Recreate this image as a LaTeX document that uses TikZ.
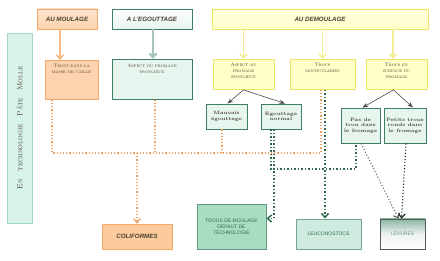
\documentclass[tikz,border=0pt]{standalone}
\usepackage{fontspec}
\setsansfont{Liberation Sans}
\usetikzlibrary{arrows.meta,calc}
\definecolor{orbd}{HTML}{F2A868}
\definecolor{orfill}{HTML}{FCD3AE}
\definecolor{orline}{HTML}{F0A060}
\definecolor{grbd}{HTML}{3E7E62}
\definecolor{grfill}{HTML}{E6F5EE}
\definecolor{ylbd}{HTML}{EFE46A}
\definecolor{ylfill}{HTML}{FFFFC8}
\definecolor{mint}{HTML}{D8F3EA}
\definecolor{mintbd}{HTML}{A6D8C6}
\definecolor{dkgr}{HTML}{2F6A4C}
\definecolor{txt}{HTML}{4A4030}
\definecolor{tdmfill}{HTML}{A9DCC2}
\definecolor{leufill}{HTML}{CFEBDF}
\definecolor{levtop}{HTML}{8AB4A2}
\tikzset{
  bx/.style={draw, line width=0.9pt, inner sep=1pt, align=center, text=txt},
  hdr/.style={bx, font=\sffamily\bfseries\itshape\fontsize{6.2}{7}\selectfont},
  sctxt/.style={inner sep=0pt, align=center, text=txt, anchor=north, font=\scshape\addfontfeature{FakeBold=2.5}\fontsize{5}{6}\selectfont},
  sm/.style={bx, font=\bfseries\fontsize{4.8}{5.6}\selectfont},
  btm/.style={bx, font=\sffamily\fontsize{5}{6}\selectfont},
  orarr/.style={line width=1.2pt, dotted, orline},
  grarr/.style={line width=1.5pt, dotted, dkgr},
  tip/.style={-{Straight Barb[length=4pt,width=7pt]}},
}
\begin{document}
\begin{tikzpicture}[x=1pt,y=-1pt]
\useasboundingbox (0,0) rectangle (440,261);
% vertical label
\node[bx, draw=mintbd, fill=mint, minimum width=25pt, minimum height=190pt] (vert) at (19.5,128) {};
\node[rotate=90, text=txt, font=\scshape\addfontfeature{FakeBold=2}\fontsize{7.5}{8}\selectfont] (vtxt) at (vert.center) {E\kern0.5pt n\quad technologie\quad P\kern0.5pt\^ate\quad Molle};
% headers
\node[hdr, draw=orbd, top color=orfill!60, bottom color=orfill, minimum width=60pt, minimum height=20pt] (hm) at (67,19) {AU MOULAGE};
\node[hdr, draw=grbd, top color=white, bottom color=grfill, minimum width=80pt, minimum height=20pt] (he) at (152,19) {A L'EGOUTTAGE};
\node[hdr, draw=ylbd, top color=ylfill!60, bottom color=ylfill, minimum width=216pt, minimum height=20pt] (hd) at (320,19) {AU DEMOULAGE};
% second row
\node[bx, draw=orbd, fill=orfill, minimum width=53pt, minimum height=39pt, anchor=north] (tm) at (71.5,60) {};
\node[sctxt] (tmt) at ([yshift=-4pt]tm.north) {Trous dans la\\masse de caille};
\node[bx, draw=grbd, fill=grfill, minimum width=80pt, minimum height=40pt, anchor=north] (as) at (152,59) {};
\node[sctxt] (ast) at ([yshift=-5pt]as.north) {Aspect du fromage\\spongieux};
\node[bx, draw=ylbd, fill=ylfill, minimum width=61pt, minimum height=30pt, anchor=north] (y1) at (243.5,59) {};
\node[sctxt] (y1t) at ([yshift=-4pt]y1.north) {Aspect du\\fromage\\spongieux};
\node[bx, draw=ylbd, fill=ylfill, minimum width=65pt, minimum height=30pt, anchor=north] (y2) at (322.5,59) {};
\node[sctxt] (y2t) at ([yshift=-4pt]y2.north) {Trous\\lenticulaires};
\node[bx, draw=ylbd, fill=ylfill, minimum width=61pt, minimum height=30pt, anchor=north] (y3) at (396.5,59) {};
\node[sctxt] (y3t) at ([yshift=-4pt]y3.north) {Trous en\\surface du\\fromage};
% small boxes
\node[sm, draw=grbd, fill=grfill, minimum width=41pt, minimum height=25pt] (mv) at (226.5,116.5) {Mauvais\\égouttage};
\node[sm, draw=grbd, fill=grfill, minimum width=40pt, minimum height=25pt] (en) at (281,116.5) {Egouttage\\normal};
\node[sm, draw=grbd, fill=grfill, minimum width=39pt, minimum height=35pt] (pt) at (360.5,125.5) {Pas de\\trou dans\\le fromage};
\node[sm, draw=grbd, fill=grfill, minimum width=42pt, minimum height=35pt] (pr) at (405,125.5) {Petits trous\\ronds dans\\le fromage};
% bottom
\node[bx, draw=orbd, fill=orfill!90!orange, minimum width=70pt, minimum height=25pt, font=\sffamily\bfseries\itshape\fontsize{6.2}{7}\selectfont] (col) at (137,236.5) {COLIFORMES};
\node[btm, draw=grbd!80, fill=tdmfill, minimum width=69pt, minimum height=45pt, text=dkgr] (tdm) at (231.5,226.5) {TROUS DE MOULAGE\\DEFAUT DE\\TECHNOLOGIE};
\node[btm, draw=grbd!70, fill=leufill, minimum width=65pt, minimum height=30pt, text=dkgr] (leu) at (328.5,234) {LEUCONOSTOCS};
\node[btm, draw=black!65, top color=levtop, bottom color=white, middle color=white!85!levtop, minimum width=45pt, minimum height=30pt, text=white!30!dkgr] (lev) at (402.5,234) {LEVURES};
% header arrows
\draw[tip, line width=1.6pt, orbd!80] ([xshift=-7pt]hm.south) -- ([xshift=-11.5pt]tm.north);
\draw[tip, line width=2.2pt, grbd!45] ([xshift=1pt]he.south) -- ([xshift=1pt]as.north);
\draw[tip, line width=1.6pt, ylbd!70] (hd.south -| y1.north) -- (y1.north);
\draw[tip, line width=1.6pt, ylbd!70] (hd.south -| y2.north) -- (y2.north);
\draw[tip, line width=1.6pt, ylbd!70] ([xshift=-3.5pt]hd.south -| y3.north) -- ([xshift=-3.5pt]y3.north);
% dark arrows
\draw[-Stealth, line width=0.6pt, black!70] (y1.south) -- ([xshift=1pt]mv.north);
\draw[-Stealth, line width=0.6pt, black!70] (y1.south) -- ([xshift=4pt]en.north);
\draw[-Stealth, line width=0.6pt, black!70] ([xshift=-3pt]y3.south) -- ([xshift=2pt]pt.north);
\draw[-Stealth, line width=0.6pt, black!70] ([xshift=-3pt]y3.south) -- ([xshift=8pt]pr.north);
% orange dotted
\coordinate (oR) at (321,153);
\draw[orarr] ([xshift=-19.5pt]tm.south) |- (oR);
\draw[orarr] ([xshift=3pt]as.south) -- ([xshift=3pt]as.south |- oR);
\draw[orarr] ([xshift=-4.5pt]mv.south) -- ([xshift=-4.5pt]mv.south |- oR);
\draw[orarr] ([xshift=-1.5pt]y2.south) -- (oR);
\draw[orarr, tip] (col.north |- oR) -- (col.north);
% green dotted
\coordinate (gJ) at (356,169);
\draw[grarr] ([xshift=-10pt]en.south) |- (gJ) -- ([xshift=-4.5pt]pt.south);
\draw[grarr, tip] ([xshift=-7pt]en.south) |- ([yshift=8pt]tdm.east);
\draw[grarr, tip] ([xshift=2.5pt]y2.south) -- ([xshift=-3.5pt]leu.north);
% levures
\draw[line width=1.1pt, dotted, black!60, tip] ([xshift=0.5pt]pt.south) -- ([xshift=-4pt]lev.north);
\draw[line width=1.1pt, dotted, black!60!dkgr, tip] ([xshift=1pt]pr.south) -- ([xshift=-1pt]lev.north);
\end{tikzpicture}
\end{document}
